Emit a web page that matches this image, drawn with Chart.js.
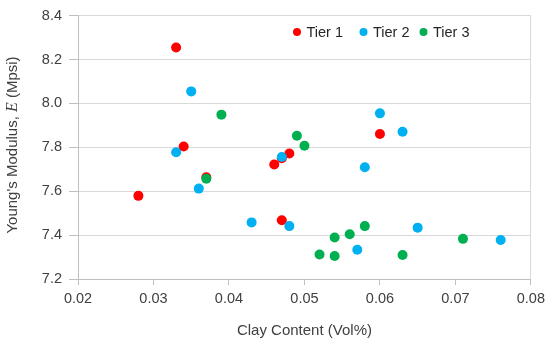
<!DOCTYPE html>
<html>
<head>
<meta charset="utf-8">
<script src="https://cdn.jsdelivr.net/npm/chart.js@4.4.0/dist/chart.umd.min.js"></script>
<style>
  html, body { margin: 0; padding: 0; background: #fff; }
</style>
</head>
<body>
<canvas id="chart" width="550" height="343"></canvas>
<script>
// clay content (Vol%) and Young's modulus (Mpsi) per tier
const tier1X = [0.033, 0.034, 0.028, 0.037, 0.046, 0.048, 0.047, 0.047, 0.060];
const tier1Y = [8.255, 7.804, 7.579, 7.664, 7.722, 7.772, 7.750, 7.468, 7.861];

const tier2X = [0.035, 0.033, 0.036, 0.047, 0.043, 0.048, 0.060, 0.063, 0.058, 0.057, 0.065, 0.076];
const tier2Y = [8.055, 7.778, 7.612, 7.756, 7.458, 7.441, 7.955, 7.871, 7.709, 7.333, 7.434, 7.378];

const tier3X = [0.039, 0.037, 0.049, 0.050, 0.052, 0.054, 0.054, 0.056, 0.058, 0.063, 0.071];
const tier3Y = [7.949, 7.657, 7.853, 7.807, 7.312, 7.389, 7.305, 7.404, 7.441, 7.309, 7.383];

const xTicks = [0.02, 0.03, 0.04, 0.05, 0.06, 0.07, 0.08];
const yTicks = [7.2, 7.4, 7.6, 7.8, 8.0, 8.2, 8.4];

const seriesNames = ['Tier 1', 'Tier 2', 'Tier 3'];
const seriesColors = ['#FF0000', '#00B0F0', '#00B050'];

const FONT = '"Liberation Sans", Arial, sans-serif';
const TEXT = '#404040';

function toPoints(xs, ys) {
    return xs.map((x, i) => ({ x: x, y: ys[i] }));
}

// Excel draws series 1 first, so tier 3 ends up on top.
// Chart.js puts dataset 0 on top, hence the reversed list.
const datasets = [
    { label: seriesNames[2], data: toPoints(tier3X, tier3Y), backgroundColor: seriesColors[2] },
    { label: seriesNames[1], data: toPoints(tier2X, tier2Y), backgroundColor: seriesColors[1] },
    { label: seriesNames[0], data: toPoints(tier1X, tier1Y), backgroundColor: seriesColors[0] }
].map(d => Object.assign(d, { borderWidth: 0, pointRadius: 5, pointHoverRadius: 5 }));

// legend inside the plot, top right, like the original
const legendPlugin = {
    id: 'insideLegend',
    afterDraw(chart) {
        const c = chart.ctx;
        const xs = [297, 363.5, 423.5];
        const y = 32;
        c.save();
        c.font = '14.5px ' + FONT;
        c.textBaseline = 'middle';
        c.textAlign = 'left';
        seriesNames.forEach((name, i) => {
            c.fillStyle = seriesColors[i];
            c.beginPath();
            c.arc(xs[i], y, 4, 0, Math.PI * 2);
            c.fill();
            c.fillStyle = '#262626';
            c.fillText(name, xs[i] + 9.5, y + 1);
        });
        c.restore();
    }
};

// y title with the italic serif E
const yTitlePlugin = {
    id: 'yTitle',
    afterDraw(chart) {
        const c = chart.ctx;
        const parts = [
            { t: "Young's Modulus, ", f: '15px ' + FONT },
            { t: 'E', f: 'italic 16px "Liberation Serif", "Times New Roman", serif' },
            { t: ' (Mpsi)', f: '15px ' + FONT }
        ];
        c.save();
        let total = 0;
        parts.forEach(p => { c.font = p.f; p.w = c.measureText(p.t).width; total += p.w; });
        c.translate(13, 145);
        c.rotate(-Math.PI / 2);
        c.textBaseline = 'middle';
        c.fillStyle = TEXT;
        let x = -total / 2;
        parts.forEach(p => { c.font = p.f; c.fillText(p.t, x, 0); x += p.w; });
        c.restore();
    }
};

new Chart(document.getElementById('chart'), {
    type: 'scatter',
    data: { datasets: datasets },
    options: {
        responsive: false,
        animation: false,
        layout: { padding: { top: 12, right: 18, left: 0, bottom: 0 } },
        plugins: {
            legend: { display: false },
            tooltip: { enabled: false }
        },
        scales: {
            x: {
                type: 'linear',
                min: xTicks[0],
                max: xTicks[xTicks.length - 1],
                afterBuildTicks: s => { s.ticks = xTicks.map(v => ({ value: v })); },
                afterFit: s => { s.height = 64; },
                ticks: {
                    color: TEXT,
                    font: { family: FONT, size: 14.5 },
                    padding: 5,
                    maxRotation: 0,
                    callback: v => v.toFixed(2)
                },
                grid: {
                    color: c => (c.index === xTicks.length - 1 ? '#D9D9D9' : 'rgba(0,0,0,0)'),
                    tickColor: '#BFBFBF',
                    tickLength: 6,
                    lineWidth: 1
                },
                border: { color: '#BFBFBF', width: 1 },
                title: {
                    display: true,
                    text: 'Clay Content (Vol%)',
                    color: TEXT,
                    font: { family: FONT, size: 15 },
                    padding: { top: 0, bottom: 3 }
                }
            },
            y: {
                type: 'linear',
                min: yTicks[0],
                max: yTicks[yTicks.length - 1],
                afterBuildTicks: s => { s.ticks = yTicks.map(v => ({ value: v })); },
                afterFit: s => { s.width = 78; },
                ticks: {
                    color: TEXT,
                    font: { family: FONT, size: 14.5 },
                    padding: 7,
                    callback: v => v.toFixed(1)
                },
                grid: {
                    color: '#D9D9D9',
                    tickColor: '#BFBFBF',
                    tickLength: 9,
                    lineWidth: 1
                },
                border: { color: '#BFBFBF', width: 1 }
            }
        }
    },
    plugins: [legendPlugin, yTitlePlugin]
});
</script>
</body>
</html>
